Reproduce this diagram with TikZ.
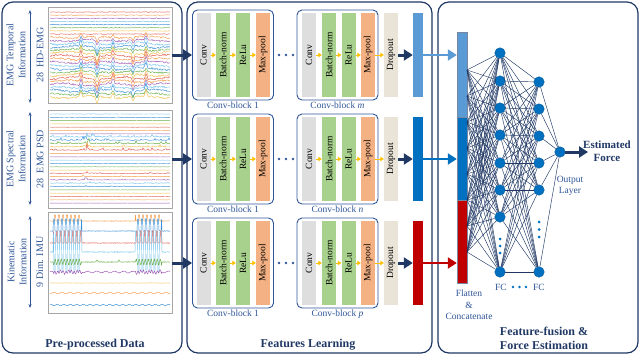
\documentclass[tikz,border=0pt]{standalone}
\usepackage{fontspec}
\setmainfont{Liberation Serif}
\usepackage{graphicx}
\usetikzlibrary{arrows.meta,positioning}

\definecolor{navy}{HTML}{1F3864}
\definecolor{blockblue}{HTML}{2F5597}
\definecolor{convgray}{HTML}{DEDEDE}
\definecolor{bngreen}{HTML}{A9D18E}
\definecolor{poolorange}{HTML}{F4B183}
\definecolor{dropbeige}{HTML}{EAE4D8}
\definecolor{arrowgold}{HTML}{FFC000}
\definecolor{featA}{HTML}{5B9BD5}
\definecolor{featB}{HTML}{0070C0}
\definecolor{featC}{HTML}{C00000}
\definecolor{nnline}{HTML}{203864}
\definecolor{tr0}{HTML}{E05A4E}
\definecolor{tr1}{HTML}{F39C4A}
\definecolor{tr2}{HTML}{A05BB5}
\definecolor{tr3}{HTML}{74C3EC}
\definecolor{tr4}{HTML}{3A8FD6}
\definecolor{tr5}{HTML}{6AB04C}
\definecolor{tr6}{HTML}{F2C14E}

\newcommand\imuburst{((\x>53)*(\x<82)+(\x>135)*(\x<162))}

\begin{document}
\begin{tikzpicture}[x=1pt, y=-1pt,
  panel/.style={draw=navy, line width=1.2pt, rounded corners=11pt},
  plotbox/.style={draw=black!35, line width=0.8pt, fill=white, minimum width=124pt, minimum height=96pt, inner sep=0pt},
  sidelabel/.style={rotate=90, align=center, text=blockblue, font=\fontsize{10}{12}\selectfont},
  dimarrow/.style={draw=blockblue, line width=0.7pt, {Stealth[length=4pt,width=3pt]}-{Stealth[length=4pt,width=3pt]}},
  blockbox/.style={draw=blockblue, line width=0.9pt, rounded corners=5pt, minimum width=81pt, minimum height=90pt, inner sep=0pt},
  blocklabel/.style={text=blockblue, font=\fontsize{9.5}{11}\selectfont, inner sep=1pt},
  layerbar/.style={minimum width=14pt, minimum height=84pt, inner sep=0pt, font=\fontsize{9.5}{10}\selectfont},
  featbar/.style={minimum width=10pt, minimum height=84pt, inner sep=0pt},
  goldarrow/.style={draw=arrowgold, line width=1pt, -{Triangle[length=3.5pt,width=4.5pt]}},
  bigarrow/.style={draw=navy, line width=3pt, -{Triangle[length=9pt,width=11pt]}},
  colarrow/.style={line width=2.6pt, -{Triangle[length=9pt,width=11pt]}},
  nnode/.style={circle, fill=featB, draw=featB!80!black, line width=0.4pt, minimum size=10.5pt, inner sep=0pt},
  nnedge/.style={draw=nnline, line width=0.45pt},
  trace/.style={line width=0.45pt},
  paneltitle/.style={text=navy, font=\bfseries\fontsize{12}{14}\selectfont},
  smalltext/.style={text=blockblue, font=\fontsize{9.5}{11.5}\selectfont, align=center, inner sep=1pt},
]
\useasboundingbox (0,0) rectangle (640,356);

\draw[panel] (2,2) rectangle (182,353);
\draw[panel] (187,2) rectangle (432,353);
\draw[panel] (438,2) rectangle (638,353);

\node[plotbox] (emg) at (110,55) {};
\node[plotbox, minimum height=98pt] (psd) at (110,159) {};
\node[plotbox, minimum height=101pt] (imu) at (110,263) {};

\pgfmathsetseed{11}
\foreach \i in {0,...,27}{
  \pgfmathtruncatemacro\ci{mod(\i,7)}
  \pgfmathsetmacro\yy{12+\i*3.15}
  \pgfmathsetmacro\nz{\i<8 ? 0.35 : 0.9}
  \pgfmathsetmacro\spk{\i<8 ? 0 : 0.6+0.5*rnd}
  \draw[trace, tr\ci] plot[domain=50:170, samples=121]
    (\x, {\yy + \nz*rand + \spk*(1.2*sin(7*\x+40*\i) - 6*max(0,1-abs(\x-81)/2) + 8*max(0,1-abs(\x-97)/2.5) - 5*max(0,1-abs(\x-113)/2) + 5*max(0,1-abs(\x-133)/2) - 6*max(0,1-abs(\x-146)/2))});
}
\foreach \i in {0,...,27}{
  \pgfmathtruncatemacro\ci{mod(\i+3,7)}
  \pgfmathsetmacro\yy{114+\i*3.3}
  \pgfmathsetmacro\amp{(\i>6)*(\i<12)*4 + (\i>17)*(\i<23)*1.2}
  \draw[trace, tr\ci] plot[domain=50:170, samples=121]
    (\x, {\yy - \amp*rnd*rnd*rnd*(1+2*max(0,1-abs(\x-87)/8)) + 0.1*rand});
}
\draw[trace, tr1] plot[domain=50:170, samples=241] (\x, {221 + 0.3*rand - \imuburst*6*(sin(90*(\x-50))>0)});
\draw[trace, tr4] plot[domain=50:170, samples=241] (\x, {231 + 0.3*rand - \imuburst*12*(sin(90*(\x-50)+90)>0)});
\draw[trace, tr0] plot[domain=50:170, samples=241] (\x, {243 + 0.3*rand - \imuburst*12*(sin(90*(\x-50)+180)>0)});
\draw[trace, tr3] plot[domain=50:170, samples=241] (\x, {252 + 0.4*rand + \imuburst*20*(2*(sin(90*(\x-50)+45)>0)-1)});
\draw[trace, tr5] plot[domain=50:170, samples=241] (\x, {262 + 0.4*rand + \imuburst*3*sin(120*(\x-50)) - 2*max(0,1-abs(\x-97)/1.5) - 2*max(0,1-abs(\x-119)/1.5)});
\draw[trace, tr2] plot[domain=50:170, samples=241] (\x, {272 + 0.8*sin(40*\x) + 0.3*rand + \imuburst*1.5*sin(130*(\x-50))});
\draw[trace, tr6] plot[domain=50:170, samples=121] (\x, {283 + 0.15*rand});
\draw[trace, tr1] plot[domain=50:170, samples=121] (\x, {293 + 0.8*sin(45*\x)});
\draw[trace, tr4] plot[domain=50:170, samples=121] (\x, {305 + 0.8*sin(55*\x)});

\node[sidelabel] (s1) at (16,55) {EMG Temporal\\Information};
\node[sidelabel] (t1) at (40,55) {28\enspace HD-EMG};
\node[sidelabel] (s2) at (16,159) {EMG Spectral\\Information};
\node[sidelabel] (t2) at (40,159) {28\enspace EMG PSD};
\node[sidelabel] (s3) at (17,262) {Kinematic\\Information};
\node[sidelabel] (t3) at (40,262) {9 Dim. IMU};
\foreach \r/\ya/\yb in {1/10/103, 2/112/205, 3/216/308}{
  \coordinate (ta\r) at (30,\ya);
  \coordinate (tb\r) at (30,\yb);
  \draw[dimarrow] (ta\r) -- (tb\r);
}
\node[paneltitle] (ttl1) at (95,345) {Pre-processed Data};

\foreach \r/\yy/\blk/\fcol in {1/55/m/featA, 2/159/n/featB, 3/263/p/featC}{
  \node[blockbox] (ba\r) at (233,\yy) {};
  \node[blocklabel, below=0.5pt of ba\r] (la\r) {Conv-block 1};
  \node[layerbar, fill=convgray] (c\r-1) at (203.5,\yy) {\rotatebox{90}{Conv}};
  \node[layerbar, fill=bngreen] (c\r-2) at (223,\yy) {\rotatebox{90}{Batch-norm}};
  \node[layerbar, fill=bngreen] (c\r-3) at (243,\yy) {\rotatebox{90}{ReLu}};
  \node[layerbar, fill=poolorange] (c\r-4) at (263,\yy) {\rotatebox{90}{Max-pool}};
  \node[blockbox] (bb\r) at (337.5,\yy) {};
  \node[blocklabel, below=0.5pt of bb\r] (lb\r) {Conv-block \emph{\blk}};
  \node[layerbar, fill=convgray] (d\r-1) at (309,\yy) {\rotatebox{90}{Conv}};
  \node[layerbar, fill=bngreen] (d\r-2) at (329,\yy) {\rotatebox{90}{Batch-norm}};
  \node[layerbar, fill=bngreen] (d\r-3) at (348.5,\yy) {\rotatebox{90}{ReLu}};
  \node[layerbar, fill=poolorange] (d\r-4) at (368,\yy) {\rotatebox{90}{Max-pool}};
  \node[layerbar, fill=dropbeige] (drop\r) at (391,\yy) {\rotatebox{90}{Dropout}};
  \node[featbar, fill=\fcol] (feat\r) at (418,\yy) {};
  \foreach \k/\kk in {1/2,2/3,3/4}{
    \draw[goldarrow] (c\r-\k) -- (c\r-\kk);
    \draw[goldarrow] (d\r-\k) -- (d\r-\kk);
  }
  \draw[goldarrow] (d\r-4) -- (drop\r);
  \foreach \dx in {279,286,293} \fill[blockblue] (\dx,\yy) circle (1.4pt);
  \draw[bigarrow] (drop\r) -- (feat\r);
}
\draw[bigarrow] (emg) -- (ba1);
\draw[bigarrow] (psd) -- (ba2);
\draw[bigarrow] (imu) -- (ba3);
\node[paneltitle] (ttl2) at (308,345) {Features Learning};

\node[featbar, fill=featA, draw=nnline!60, line width=0.4pt, minimum height=85pt] (flatA) at (462,74.5) {};
\node[featbar, fill=featB, draw=nnline!60, line width=0.4pt, minimum height=83pt] (flatB) at (462,158.5) {};
\node[featbar, fill=featC, draw=nnline!60, line width=0.4pt, minimum height=83pt] (flatC) at (462,241.5) {};
\draw[colarrow, color=featA] (feat1) -- (feat1 -| flatA.west);
\draw[colarrow, color=featB] (feat2) -- (feat2 -| flatB.west);
\draw[colarrow, color=featC] (feat3) -- (feat3 -| flatC.west);

\foreach \j/\ny in {1/53,2/81,3/108,4/135,5/163,6/190,7/217,8/272}
  \node[nnode] (h\j) at (500,\ny) {};
\foreach \k/\ny in {1/82,2/109,3/136,4/163,5/190,6/272}
  \node[nnode] (g\k) at (539,\ny) {};
\node[nnode] (out) at (560,152) {};
\foreach \i/\fy in {1/70,2/96,3/122,4/148,5/174,6/200,7/226,8/252}
  \coordinate (f\i) at (467,\fy);
\foreach \i in {1,...,8}
  \foreach \j in {1,...,8}
    \draw[nnedge] (f\i) -- (h\j);
\foreach \j in {1,...,8}
  \foreach \k in {1,...,6}
    \draw[nnedge] (h\j) -- (g\k);
\foreach \k in {1,...,6}
  \draw[nnedge] (g\k) -- (out);
\foreach \dy in {239,246,253} \fill[featB] (500,\dy) circle (1.5pt);
\foreach \dy in {222,229.5,237} \fill[featB] (539,\dy) circle (1.5pt);

\coordinate (fo) at (588,152);
\draw[bigarrow] (out) -- (fo);
\node[paneltitle, font=\bfseries\fontsize{11}{13}\selectfont, align=center] (est) at (607,151) {Estimated\\Force};
\node[smalltext] (ol) at (570,186) {Output\\Layer};
\node[smalltext] (fc1) at (501,287) {FC};
\node[smalltext] (fc2) at (539,287) {FC};
\foreach \dx in {513,519.5,526} \fill[featB] (\dx,287) circle (1.4pt);
\node[smalltext] (flt) at (469,305) {Flatten\\\&\\Concatenate};
\node[paneltitle, align=left] (ttl3) at (544,338) {Feature-fusion \&\\Force Estimation};
\end{tikzpicture}
\end{document}
